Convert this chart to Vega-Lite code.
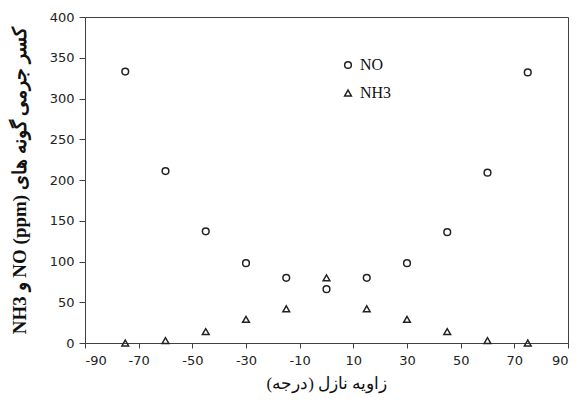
{
  "$schema": "https://vega.github.io/schema/vega-lite/v6.json",
  "width": 483,
  "height": 326,
  "autosize": "none",
  "padding": {"left": 85, "top": 17, "right": 10, "bottom": 60},
  "background": "white",
  "config": {
    "view": {"stroke": "#404040", "strokeWidth": 1},
    "axis": {
      "grid": false,
      "domainColor": "#404040",
      "tickColor": "#404040",
      "labelColor": "#222222",
      "labelFont": "DejaVu Sans",
      "labelFontSize": 13,
      "labelExpr": "replace(datum.label, '\u2212', '-')",
      "titleFont": "Liberation Serif",
      "titleColor": "#111111",
      "titleFontWeight": "normal"
    }
  },
  "data": {
    "values": [
      {"angle": -75, "value": 333, "species": "NO"},
      {"angle": -60, "value": 211, "species": "NO"},
      {"angle": -45, "value": 137, "species": "NO"},
      {"angle": -30, "value": 98, "species": "NO"},
      {"angle": -15, "value": 80, "species": "NO"},
      {"angle": 0, "value": 66, "species": "NO"},
      {"angle": 15, "value": 80, "species": "NO"},
      {"angle": 30, "value": 98, "species": "NO"},
      {"angle": 45, "value": 136, "species": "NO"},
      {"angle": 60, "value": 209, "species": "NO"},
      {"angle": 75, "value": 332, "species": "NO"},
      {"angle": -75, "value": 0, "species": "NH3"},
      {"angle": -60, "value": 3, "species": "NH3"},
      {"angle": -45, "value": 14, "species": "NH3"},
      {"angle": -30, "value": 29, "species": "NH3"},
      {"angle": -15, "value": 42, "species": "NH3"},
      {"angle": 0, "value": 80, "species": "NH3"},
      {"angle": 15, "value": 42, "species": "NH3"},
      {"angle": 30, "value": 29, "species": "NH3"},
      {"angle": 45, "value": 14, "species": "NH3"},
      {"angle": 60, "value": 3, "species": "NH3"},
      {"angle": 75, "value": 0, "species": "NH3"}
    ]
  },
  "mark": {"type": "point", "filled": false, "strokeWidth": 1.5, "size": 45, "color": "#222222", "opacity": 1},
  "encoding": {
    "x": {
      "field": "angle",
      "type": "quantitative",
      "scale": {"domain": [-90, 90], "nice": false, "zero": false},
      "axis": {
        "values": [-90, -70, -50, -30, -10, 10, 30, 50, 70, 90],
        "title": "زاویه نازل (درجه)\u200f",
        "titleFontSize": 17,
        "titlePadding": 8,
        "labelPadding": 6,
        "tickSize": 5
      }
    },
    "y": {
      "field": "value",
      "type": "quantitative",
      "scale": {"domain": [0, 400], "nice": false},
      "axis": {
        "values": [0, 50, 100, 150, 200, 250, 300, 350, 400],
        "title": "NH3 و NO (ppm) کسر جرمی گونه های",
        "titleFontSize": 19,
        "titleFontWeight": "bold",
        "titlePadding": 20,
        "labelPadding": 5,
        "tickSize": 6
      }
    },
    "shape": {
      "field": "species",
      "type": "nominal",
      "scale": {"domain": ["NO", "NH3"], "range": ["circle", "triangle-up"]},
      "legend": {
        "title": null,
        "orient": "none",
        "legendX": 255,
        "legendY": 40,
        "padding": 0,
        "rowPadding": 12,
        "labelFont": "Liberation Serif",
        "labelFontSize": 16,
        "labelColor": "#111111",
        "symbolSize": 45,
        "symbolStrokeWidth": 1.5,
        "symbolStrokeColor": "#222222",
        "symbolFillColor": "transparent",
        "labelOffset": 4
      }
    }
  }
}
